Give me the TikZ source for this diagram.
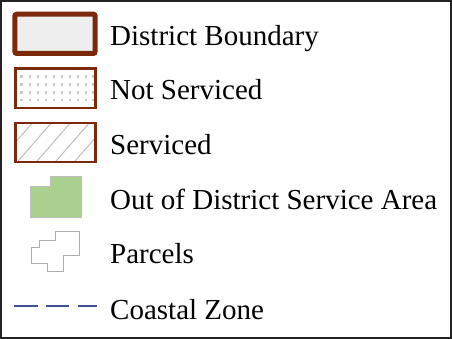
\documentclass[tikz,border=0pt]{standalone}
\usepackage{fontspec}
\setmainfont{Liberation Serif}
\definecolor{brownb}{RGB}{122,42,10}
\definecolor{dotgray}{RGB}{200,200,200}
\definecolor{hatchgray}{RGB}{190,190,190}
\definecolor{greenarea}{RGB}{169,208,142}
\definecolor{greenedge}{RGB}{190,190,190}
\definecolor{parcelgray}{RGB}{175,175,175}
\definecolor{boxfill}{RGB}{238,238,238}
\definecolor{coastblue}{RGB}{68,80,150}
\definecolor{framegray}{RGB}{35,35,35}
\begin{document}
\begin{tikzpicture}[x=1pt,y=-1pt,
  lbl/.style={anchor=base west,inner sep=0pt,font=\fontsize{29}{29}\selectfont},
  brownbox/.style={draw=brownb,line width=2.4pt}]
\useasboundingbox (0,0) rectangle (452,339);
\fill[white] (0,0) rectangle (452,339);
\draw[framegray,line width=2.2pt] (1.1,1.1) rectangle (450.9,337.9);
% District boundary
\draw[brownb,line width=5pt,fill=boxfill,rounded corners=2pt] (14.8,14.2) rectangle (95.2,53.5);
\node[lbl] (t1) at (110,45.5) {District Boundary};
% Not serviced
\foreach \yy in {76.3,84.3,92.3,100.2}{
  \foreach \xx in {21.7,29.8,37.9,46,54,62,70,78,86,93.5}{
    \fill[dotgray] (\xx-1.3,\yy-1.3) rectangle (\xx+1.3,\yy+1.3);
  }
}
\draw[brownbox] (15.3,68.7) rectangle (95.3,108.3);
\node[lbl] (t2) at (110,100) {Not Serviced};
% Serviced
\begin{scope}
\clip (15.3,123.3) rectangle (95.3,162.3);
\foreach \k in {0,...,7}{
  \draw[hatchgray,line width=1pt] ({-2+19*\k},162.3) -- ({-2+19*\k+34},123.3);
}
\end{scope}
\draw[brownbox] (15.3,123.3) rectangle (95.3,162.3);
\node[lbl] (t3) at (110,154.5) {Serviced};
% Out of district service area
\draw[fill=greenarea,draw=greenedge,line width=0.8pt]
  (30,186.7) -- (50,186.7) -- (50,176.7) -- (81,176.7) -- (81,217.7) -- (30,217.7) -- cycle;
\node[lbl] (t4) at (110,209) {Out of District Service Area};
% Parcels
\draw[parcelgray,line width=0.9pt,line join=miter]
  (55,231.7) -- (79.3,231.7) -- (79.3,255) -- (63.3,255) -- (63.3,271.7) -- (47.7,271.7)
  -- (47.7,263.3) -- (31,263.3) -- (31,247.3) -- (39.3,247.3) -- (39.3,240) -- (55,240) -- cycle;
\node[lbl] (t5) at (110,263.5) {Parcels};
% Coastal zone
\coordinate (c1) at (14.3,306);
\coordinate (c2) at (96.7,306);
\draw[coastblue,line width=2.5pt,dash pattern=on 23.4pt off 8.3pt] (c1) -- (c2);
\node[lbl] (t6) at (110,319) {Coastal Zone};
\end{tikzpicture}
\end{document}
